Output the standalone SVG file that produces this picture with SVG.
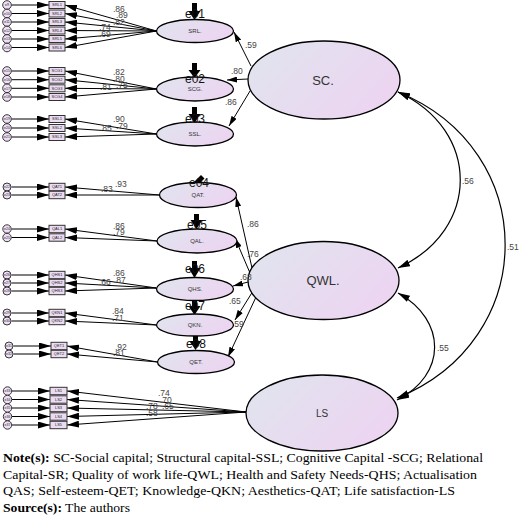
<svg xmlns="http://www.w3.org/2000/svg" width="520" height="527" viewBox="0 0 520 527">
<defs>
<linearGradient id="g" x1="0" y1="0" x2="1" y2="0.5">
<stop offset="0" stop-color="#e0e5ee"/>
<stop offset="1" stop-color="#ecd5f1"/>
</linearGradient>
<marker id="ah" markerWidth="12" markerHeight="7" refX="12" refY="3.5" orient="auto" markerUnits="userSpaceOnUse"><path d="M0,0 L12,3.5 L0,7z" fill="#000"/></marker>
<marker id="as" markerWidth="10" markerHeight="6" refX="10" refY="3" orient="auto" markerUnits="userSpaceOnUse"><path d="M0,0 L10,3 L0,6z" fill="#000"/></marker>
<marker id="ac" markerWidth="12" markerHeight="7" refX="12" refY="3.5" orient="auto-start-reverse" markerUnits="userSpaceOnUse"><path d="M0,0 L12,3.5 L0,7z" fill="#000"/></marker>
</defs>
<style>
.lat{fill:url(#g);stroke:#000;stroke-width:1.3}
.box{fill:#ecdcf2;stroke:#333;stroke-width:1}
.err{fill:#eedff4;stroke:#222;stroke-width:0.9}
.ind{stroke:#000;stroke-width:1;fill:none;marker-end:url(#ah)}
.st{stroke:#000;stroke-width:1;fill:none;marker-end:url(#as)}
.cov{stroke:#000;stroke-width:1.2;fill:none;marker-start:url(#ac);marker-end:url(#ac)}
.bt{font-family:"Liberation Sans",Arial,sans-serif;font-size:4px;fill:#222;text-anchor:middle}
.ct{font-family:"Liberation Sans",Arial,sans-serif;font-size:3.5px;fill:#222;text-anchor:middle}
.lt{font-family:"Liberation Sans",Arial,sans-serif;font-size:6px;fill:#333;text-anchor:middle}
.big{font-family:"Liberation Sans",Arial,sans-serif;font-size:13px;fill:#333;text-anchor:middle}
.w{font-family:"Liberation Sans",Arial,sans-serif;font-size:8.5px;fill:#444}
.sw{font-family:"Liberation Sans",Arial,sans-serif;font-size:8.5px;fill:#444}
.et{font-family:"Liberation Sans",Arial,sans-serif;font-size:12px;fill:#111;text-anchor:middle}
.note{font-family:"Liberation Serif","Times New Roman",serif;font-size:13px;fill:#000}
</style>
<rect width="520" height="527" fill="#fff"/>

<g id="connectors">
<g class="ind">
<line x1="11.5" y1="5" x2="49" y2="5"/><line x1="11.5" y1="13.5" x2="49" y2="13.5"/><line x1="11.5" y1="22" x2="49" y2="22"/><line x1="11.5" y1="30.5" x2="49" y2="30.5"/><line x1="11.5" y1="39" x2="49" y2="39"/><line x1="11.5" y1="47.5" x2="49" y2="47.5"/>
<line x1="11.5" y1="71" x2="49" y2="71"/><line x1="11.5" y1="79.7" x2="49" y2="79.7"/><line x1="11.5" y1="88.3" x2="49" y2="88.3"/><line x1="11.5" y1="97" x2="49" y2="97"/>
<line x1="11.5" y1="119" x2="49" y2="119"/><line x1="11.5" y1="128" x2="49" y2="128"/><line x1="11.5" y1="137" x2="49" y2="137"/>
<line x1="11.5" y1="187" x2="49" y2="187"/><line x1="11.5" y1="195" x2="49" y2="195"/>
<line x1="11.5" y1="229" x2="49" y2="229"/><line x1="11.5" y1="237.5" x2="49" y2="237.5"/>
<line x1="11.5" y1="275" x2="49" y2="275"/><line x1="11.5" y1="283" x2="49" y2="283"/><line x1="11.5" y1="291" x2="49" y2="291"/>
<line x1="11.5" y1="313" x2="49" y2="313"/><line x1="11.5" y1="321" x2="49" y2="321"/>
<line x1="13.5" y1="346" x2="51" y2="346"/><line x1="13.5" y1="354" x2="51" y2="354"/>
<line x1="12" y1="391" x2="50" y2="391"/><line x1="12" y1="399.5" x2="50" y2="399.5"/><line x1="12" y1="408" x2="50" y2="408"/><line x1="12" y1="416.5" x2="50" y2="416.5"/><line x1="12" y1="425" x2="50" y2="425"/>
</g>
<g class="ind">
<line x1="156.5" y1="31" x2="65" y2="5"/><line x1="156.5" y1="31" x2="65" y2="13.5"/><line x1="156.5" y1="31" x2="65" y2="22"/><line x1="156.5" y1="31" x2="65" y2="30.5"/><line x1="156.5" y1="31" x2="65" y2="39"/><line x1="156.5" y1="31" x2="65" y2="47.5"/>
<line x1="156.5" y1="89" x2="65" y2="71"/><line x1="156.5" y1="89" x2="65" y2="79.7"/><line x1="156.5" y1="89" x2="65" y2="88.3"/><line x1="156.5" y1="89" x2="65" y2="97"/>
<line x1="156.5" y1="134" x2="65" y2="119"/><line x1="156.5" y1="134" x2="65" y2="128"/><line x1="156.5" y1="134" x2="65" y2="137"/>
<line x1="159.5" y1="195" x2="65" y2="187"/><line x1="159.5" y1="195" x2="65" y2="195"/>
<line x1="157" y1="241" x2="65" y2="229"/><line x1="157" y1="241" x2="65" y2="237.5"/>
<line x1="156.5" y1="288" x2="65" y2="275"/><line x1="156.5" y1="288" x2="65" y2="283"/><line x1="156.5" y1="288" x2="65" y2="291"/>
<line x1="156.5" y1="325" x2="65" y2="313"/><line x1="156.5" y1="325" x2="65" y2="321"/>
<line x1="157.5" y1="362" x2="67" y2="346"/><line x1="157.5" y1="362" x2="67" y2="354"/>
<line x1="246" y1="412" x2="67" y2="391"/><line x1="246" y1="412" x2="67" y2="399.5"/><line x1="246" y1="412" x2="67" y2="408"/><line x1="246" y1="412" x2="67" y2="416.5"/><line x1="246" y1="412" x2="67" y2="425"/>
</g>
<g class="st">
<line x1="251" y1="66" x2="234" y2="32"/>
<line x1="248" y1="79" x2="227" y2="80"/>
<line x1="250" y1="91" x2="229" y2="126"/>
<line x1="252" y1="268" x2="236" y2="197"/>
<line x1="250" y1="273" x2="235" y2="238"/>
<line x1="248" y1="282" x2="233" y2="286"/>
<line x1="253" y1="291" x2="235" y2="320"/>
<line x1="256" y1="297" x2="228" y2="357"/>
</g>
<path class="cov" d="M398,92 C481,130 481,230 398,268"/>
<path class="cov" d="M398,92 C541,150 541,340 397,398"/>
<path class="cov" d="M398,293 C447,320 447,375 397,400"/>
<g fill="#000" stroke="none">
<rect x="192" y="3" width="5" height="9"/><path d="M188.5,11 L200.5,11 L194.5,20z"/>
<rect x="192" y="63" width="5" height="8"/><path d="M188.5,70 L200.5,70 L194.5,78z"/>
<rect x="192" y="107" width="5" height="8"/><path d="M188.5,114 L200.5,114 L194.5,123z"/>
<path d="M201,175 L204.5,178.5 L196,187 L192.5,183.5z"/><path d="M189.5,181.5 L198.5,190.5 L187,195z"/>
<rect x="194" y="214" width="5" height="7"/><path d="M190.5,220 L202.5,220 L196.5,229z"/>
<rect x="192" y="261" width="5" height="8"/><path d="M188.5,268 L200.5,268 L194.5,278z"/>
<rect x="192" y="299" width="5" height="8"/><path d="M188.5,306 L200.5,306 L194.5,315z"/>
<rect x="193" y="334" width="5" height="8"/><path d="M189.5,341 L201.5,341 L195.5,350z"/>
</g>
</g>

<g id="SC"><ellipse class="lat" cx="324" cy="80" rx="76" ry="39"/><text class="big" x="323" y="85">SC.</text></g>
<g id="QWL"><ellipse class="lat" cx="323.5" cy="280.5" rx="75.5" ry="39"/><text class="big" x="323" y="285">QWL.</text></g>
<g id="LS"><ellipse class="lat" cx="322" cy="413" rx="76" ry="38"/><text class="big" x="322" y="417" style="font-size:10px">LS</text></g>

<g id="SRL"><ellipse class="lat" cx="195" cy="31" rx="38.5" ry="11.5"/><text class="lt" x="195" y="33">SRL.</text></g>
<g id="SCG"><ellipse class="lat" cx="195" cy="89" rx="38.5" ry="12"/><text class="lt" x="195" y="91">SCG.</text></g>
<g id="SSL"><ellipse class="lat" cx="195" cy="134" rx="38.5" ry="12"/><text class="lt" x="195" y="136">SSL.</text></g>
<g id="QAT"><ellipse class="lat" cx="198" cy="195" rx="38.5" ry="12.5"/><text class="lt" x="198" y="197">QAT.</text></g>
<g id="QAL"><ellipse class="lat" cx="197" cy="241" rx="40" ry="12"/><text class="lt" x="197" y="243">QAL.</text></g>
<g id="QHS"><ellipse class="lat" cx="195" cy="289" rx="38.5" ry="11.5"/><text class="lt" x="195" y="291">QHS.</text></g>
<g id="QKN"><ellipse class="lat" cx="195" cy="325" rx="38.5" ry="11"/><text class="lt" x="195" y="327">QKN.</text></g>
<g id="QET"><ellipse class="lat" cx="196" cy="362" rx="38.5" ry="11.5"/><text class="lt" x="196" y="364">QET.</text></g>

<g id="e01"><text class="et" x="195" y="18">e01</text></g>
<g id="e02"><text class="et" x="195" y="83">e02</text></g>
<g id="e03"><text class="et" x="195" y="123">e03</text></g>
<g id="e04"><text class="et" x="199" y="187">e04</text></g>
<g id="e05"><text class="et" x="197" y="229">e05</text></g>
<g id="e06"><text class="et" x="195" y="273">e06</text></g>
<g id="e07"><text class="et" x="195" y="310">e07</text></g>
<g id="e08"><text class="et" x="196" y="348">e08</text></g>

<g id="indicators">
<g id="SRL1"><rect class="box" x="49" y="1.5" width="16" height="7"/><text class="bt" x="57" y="6.4">SRL1</text></g>
<g id="SRL2"><rect class="box" x="49" y="10" width="16" height="7"/><text class="bt" x="57" y="14.9">SRL2</text></g>
<g id="SRL3"><rect class="box" x="49" y="18.5" width="16" height="7"/><text class="bt" x="57" y="23.4">SRL3</text></g>
<g id="SRL4"><rect class="box" x="49" y="27" width="16" height="7"/><text class="bt" x="57" y="31.9">SRL4</text></g>
<g id="SRL5"><rect class="box" x="49" y="35.5" width="16" height="7"/><text class="bt" x="57" y="40.4">SRL5</text></g>
<g id="SRL6"><rect class="box" x="49" y="44" width="16" height="7"/><text class="bt" x="57" y="48.9">SRL6</text></g>
<g id="SCG1"><rect class="box" x="49" y="67.5" width="16" height="7"/><text class="bt" x="57" y="72.4">SCG1</text></g>
<g id="SCG2"><rect class="box" x="49" y="76.2" width="16" height="7"/><text class="bt" x="57" y="81.1">SCG2</text></g>
<g id="SCG3"><rect class="box" x="49" y="84.8" width="16" height="7"/><text class="bt" x="57" y="89.7">SCG3</text></g>
<g id="SCG4"><rect class="box" x="49" y="93.5" width="16" height="7"/><text class="bt" x="57" y="98.4">SCG4</text></g>
<g id="SSL1"><rect class="box" x="49" y="115.5" width="16" height="7"/><text class="bt" x="57" y="120.4">SSL1</text></g>
<g id="SSL2"><rect class="box" x="49" y="124.5" width="16" height="7"/><text class="bt" x="57" y="129.4">SSL2</text></g>
<g id="SSL3"><rect class="box" x="49" y="133.5" width="16" height="7"/><text class="bt" x="57" y="138.4">SSL3</text></g>
<g id="QAT1"><rect class="box" x="49" y="183.3" width="16" height="7.4"/><text class="bt" x="57" y="188.4">QAT1</text></g>
<g id="QAT2"><rect class="box" x="49" y="191.3" width="16" height="7.4"/><text class="bt" x="57" y="196.4">QAT2</text></g>
<g id="QAL1"><rect class="box" x="49" y="225.3" width="16" height="7.4"/><text class="bt" x="57" y="230.4">QAL1</text></g>
<g id="QAL2"><rect class="box" x="49" y="233.8" width="16" height="7.4"/><text class="bt" x="57" y="238.9">QAL2</text></g>
<g id="QHS1"><rect class="box" x="49" y="271.3" width="16" height="7.4"/><text class="bt" x="57" y="276.4">QHS1</text></g>
<g id="QHS2"><rect class="box" x="49" y="279.3" width="16" height="7.4"/><text class="bt" x="57" y="284.4">QHS2</text></g>
<g id="QHS3"><rect class="box" x="49" y="287.3" width="16" height="7.4"/><text class="bt" x="57" y="292.4">QHS3</text></g>
<g id="QKN1"><rect class="box" x="49" y="309.3" width="16" height="7.4"/><text class="bt" x="57" y="314.4">QKN1</text></g>
<g id="QKN2"><rect class="box" x="49" y="317.3" width="16" height="7.4"/><text class="bt" x="57" y="322.4">QKN2</text></g>
<g id="QET1"><rect class="box" x="51" y="342.3" width="16" height="7.4"/><text class="bt" x="59" y="347.4">QET1</text></g>
<g id="QET2"><rect class="box" x="51" y="350.3" width="16" height="7.4"/><text class="bt" x="59" y="355.4">QET2</text></g>
<g id="LS1"><rect class="box" x="50" y="387.3" width="17" height="7.4"/><text class="bt" x="58.5" y="392.4">LS1</text></g>
<g id="LS2"><rect class="box" x="50" y="395.8" width="17" height="7.4"/><text class="bt" x="58.5" y="400.9">LS2</text></g>
<g id="LS3"><rect class="box" x="50" y="404.3" width="17" height="7.4"/><text class="bt" x="58.5" y="409.4">LS3</text></g>
<g id="LS4"><rect class="box" x="50" y="412.8" width="17" height="7.4"/><text class="bt" x="58.5" y="417.9">LS4</text></g>
<g id="LS5"><rect class="box" x="50" y="421.3" width="17" height="7.4"/><text class="bt" x="58.5" y="426.4">LS5</text></g>
</g>

<g id="errors">
<g id="e9"><circle class="err" cx="7" cy="5" r="4.3"/><text class="ct" x="7" y="6.2">e9</text></g>
<g id="e10"><circle class="err" cx="7" cy="13.5" r="4.3"/><text class="ct" x="7" y="14.7">e10</text></g>
<g id="e11"><circle class="err" cx="7" cy="22" r="4.3"/><text class="ct" x="7" y="23.2">e11</text></g>
<g id="e12"><circle class="err" cx="7" cy="30.5" r="4.3"/><text class="ct" x="7" y="31.7">e12</text></g>
<g id="e13"><circle class="err" cx="7" cy="39" r="4.3"/><text class="ct" x="7" y="40.2">e13</text></g>
<g id="e14"><circle class="err" cx="7" cy="47.5" r="4.3"/><text class="ct" x="7" y="48.7">e14</text></g>
<g id="e15"><circle class="err" cx="7" cy="71" r="4.3"/><text class="ct" x="7" y="72.2">e15</text></g>
<g id="e16"><circle class="err" cx="7" cy="79.7" r="4.3"/><text class="ct" x="7" y="80.9">e16</text></g>
<g id="e17"><circle class="err" cx="7" cy="88.3" r="4.3"/><text class="ct" x="7" y="89.5">e17</text></g>
<g id="e18"><circle class="err" cx="7" cy="97" r="4.3"/><text class="ct" x="7" y="98.2">e18</text></g>
<g id="e19"><circle class="err" cx="7" cy="119" r="4.3"/><text class="ct" x="7" y="120.2">e19</text></g>
<g id="e20"><circle class="err" cx="7" cy="128" r="4.3"/><text class="ct" x="7" y="129.2">e20</text></g>
<g id="e21"><circle class="err" cx="7" cy="137" r="4.3"/><text class="ct" x="7" y="138.2">e21</text></g>
<g id="e22"><circle class="err" cx="7" cy="187" r="4"/><text class="ct" x="7" y="188.2">e22</text></g>
<g id="e23"><circle class="err" cx="7" cy="195" r="4"/><text class="ct" x="7" y="196.2">e23</text></g>
<g id="e24"><circle class="err" cx="7" cy="229" r="4.2"/><text class="ct" x="7" y="230.2">e24</text></g>
<g id="e25"><circle class="err" cx="7" cy="237.5" r="4.2"/><text class="ct" x="7" y="238.7">e25</text></g>
<g id="e26"><circle class="err" cx="7" cy="275" r="4"/><text class="ct" x="7" y="276.2">e26</text></g>
<g id="e27"><circle class="err" cx="7" cy="283" r="4"/><text class="ct" x="7" y="284.2">e27</text></g>
<g id="e28"><circle class="err" cx="7" cy="291" r="4"/><text class="ct" x="7" y="292.2">e28</text></g>
<g id="e29"><circle class="err" cx="7" cy="313" r="4"/><text class="ct" x="7" y="314.2">e29</text></g>
<g id="e30"><circle class="err" cx="7" cy="321" r="4"/><text class="ct" x="7" y="322.2">e30</text></g>
<g id="e31"><circle class="err" cx="9" cy="346" r="4"/><text class="ct" x="9" y="347.2">e31</text></g>
<g id="e32"><circle class="err" cx="9" cy="354" r="4"/><text class="ct" x="9" y="355.2">e32</text></g>
<g id="e33"><circle class="err" cx="7.5" cy="391" r="4.2"/><text class="ct" x="7.5" y="392.2">e33</text></g>
<g id="e34"><circle class="err" cx="7.5" cy="399.5" r="4.2"/><text class="ct" x="7.5" y="400.7">e34</text></g>
<g id="e35"><circle class="err" cx="7.5" cy="408" r="4.2"/><text class="ct" x="7.5" y="409.2">e35</text></g>
<g id="e36"><circle class="err" cx="7.5" cy="416.5" r="4.2"/><text class="ct" x="7.5" y="417.7">e36</text></g>
<g id="e37"><circle class="err" cx="7.5" cy="425" r="4.2"/><text class="ct" x="7.5" y="426.2">e37</text></g>
</g>

<g id="weights">
<text class="w" x="113" y="11.5">.86</text><text class="w" x="116" y="18">.89</text><text class="w" x="113" y="24.5">.82</text><text class="w" x="99" y="30">.74</text><text class="w" x="99" y="36.5">.69</text>
<text class="w" x="113" y="75">.82</text><text class="w" x="113" y="81.5">.80</text><text class="w" x="116" y="88">.75</text><text class="w" x="100" y="89.5">.81</text>
<text class="w" x="113" y="122">.90</text><text class="w" x="116" y="128.5">.79</text><text class="w" x="100" y="131">.85</text>
<text class="w" x="101" y="192">.83</text><text class="w" x="115" y="187">.93</text>
<text class="w" x="113" y="228.5">.86</text><text class="w" x="113" y="235">.79</text>
<text class="w" x="113" y="276">.86</text><text class="w" x="114" y="282.5">.87</text><text class="w" x="99" y="285">.66</text>
<text class="w" x="112" y="314">.84</text><text class="w" x="112" y="320.5">.71</text>
<text class="w" x="115" y="349.5">.92</text><text class="w" x="113" y="356">.81</text>
<text class="w" x="158" y="396">.74</text><text class="w" x="160" y="402.5">.70</text><text class="w" x="162" y="409">.65</text><text class="w" x="146" y="409">.78</text><text class="w" x="146" y="415.5">.58</text>
<text class="sw" x="245" y="48">.59</text>
<text class="sw" x="231" y="74">.80</text>
<text class="sw" x="225" y="105">.86</text>
<text class="sw" x="462" y="184">.56</text>
<text class="sw" x="507" y="250">.51</text>
<text class="sw" x="437" y="351">.55</text>
<text class="sw" x="247" y="227">.86</text>
<text class="sw" x="247" y="257">.76</text>
<text class="sw" x="240" y="280">.68</text>
<text class="sw" x="229" y="304">.65</text>
<text class="sw" x="232" y="327">.59</text>
</g>

<g id="note">
<text class="note" x="3" y="462" textLength="480" lengthAdjust="spacingAndGlyphs"><tspan font-weight="bold">Note(s):</tspan> SC-Social capital; Structural capital-SSL; Cognitive Capital -SCG; Relational</text>
<text class="note" x="3" y="479" textLength="474" lengthAdjust="spacingAndGlyphs">Capital-SR; Quality of work life-QWL; Health and Safety Needs-QHS; Actualisation</text>
<text class="note" x="3" y="495" textLength="452" lengthAdjust="spacingAndGlyphs">QAS; Self-esteem-QET; Knowledge-QKN; Aesthetics-QAT; Life satisfaction-LS</text>
<text class="note" x="3" y="512" textLength="127" lengthAdjust="spacingAndGlyphs"><tspan font-weight="bold">Source(s):</tspan> The authors</text>
</g>
</svg>
